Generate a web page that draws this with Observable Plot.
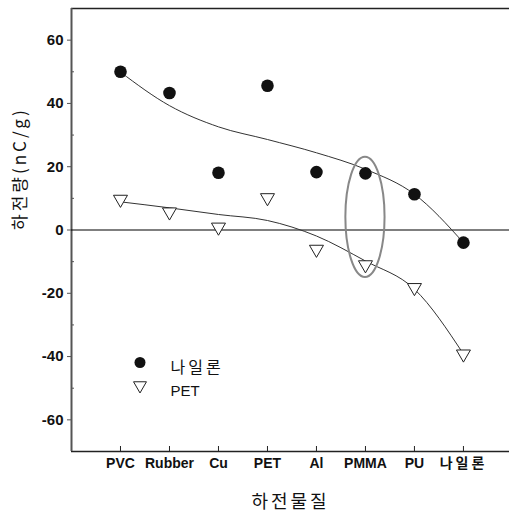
<!DOCTYPE html>
<html><head><meta charset="utf-8">
<script src="https://cdn.jsdelivr.net/npm/d3@7"></script>
<script src="https://cdn.jsdelivr.net/npm/@observablehq/plot@0.6"></script>
<style>
html,body{margin:0;padding:0;background:#fff;overflow:hidden;}
</style></head><body><div id="chart"></div>
<script>
// ---- data ----
const categories = ["PVC", "Rubber", "Cu", "PET", "Al", "PMMA", "PU", "나일론"];
const nylonValues = [50.0, 43.3, 18.1, 45.6, 18.3, 17.9, 11.3, -4.0];
const petValues = [9.7, 5.7, 0.9, 10.2, -6.1, -11.0, -18.2, -39.2];
// fitted trend curves at each category position
const nylonFitX = [1, 2, 3, 4, 5, 6, 7, 8];
const nylonFitY = [49.9, 39.3, 32.6, 28.6, 24.4, 19.2, 11.3, -4.0];
const petFitX = [1, 2, 3, 4, 5, 6, 7, 8];
const petFitY = [8.9, 7.0, 4.9, 3.0, -1.9, -9.8, -18.7, -39.2];
const seriesNames = ["나일론", "PET"];
const yMajorTicks = [-60, -40, -20, 0, 20, 40, 60];
const yMinorTicks = [-50, -30, -10, 10, 30, 50];
const xDomain = [0, 8.94];
const yDomain = [-70, 70];
const highlight = [{category: "PMMA", yCenter: 4, yHalfSpan: 19, xHalfSpan: 0.4}];
const xLabel = "하전물질";
const yLabel = "하전량(nC/g)";

// ---- tables built from the arrays ----
const categoryIndex = categories.map((c, i) => i + 1);
const nylonData = categories.map((c, i) => ({x: i + 1, y: nylonValues[i]}));
const petData = categories.map((c, i) => ({x: i + 1, y: petValues[i]}));
const nylonFit = nylonFitX.map((x, i) => ({x, y: nylonFitY[i]}));
const petFit = petFitX.map((x, i) => ({x, y: petFitY[i]}));

function ellipseMark(index, scales) {
  const h = highlight[0];
  const i = categories.indexOf(h.category) + 1;
  const cx = scales.x(i), cy = scales.y(h.yCenter);
  const rx = scales.x(i + h.xHalfSpan) - cx;
  const ry = scales.y(h.yCenter - h.yHalfSpan) - cy;
  const el = document.createElementNS("http://www.w3.org/2000/svg", "ellipse");
  el.setAttribute("cx", cx); el.setAttribute("cy", cy);
  el.setAttribute("rx", Math.abs(rx)); el.setAttribute("ry", Math.abs(ry));
  el.setAttribute("fill", "none"); el.setAttribute("stroke", "#888");
  el.setAttribute("stroke-width", 2);
  return el;
}

const chart = Plot.plot({
  width: 509,
  height: 523,
  marginLeft: 71,
  marginRight: 0,
  marginTop: 8,
  marginBottom: 72,
  style: {fontFamily: "'Liberation Sans', 'Noto Sans CJK KR', sans-serif", background: "#fff", color: "#111"},
  x: {type: "linear", domain: xDomain},
  y: {domain: yDomain},
  marks: [
    // frame lines
    Plot.ruleY([yDomain[1]], {stroke: "#222", strokeWidth: 1.5}),
    Plot.ruleY([yDomain[0]], {stroke: "#222", strokeWidth: 1.5}),
    Plot.ruleX([xDomain[0]], {stroke: "#555", strokeWidth: 2}),
    Plot.ruleY([0], {stroke: "#000", strokeWidth: 1.2}),
    // axes
    Plot.axisX(categoryIndex, {tickFormat: i => categories[i - 1], tickSize: 0, tickPadding: 7, fontSize: 14, fontWeight: "bold", label: null}),
    Plot.tickX(categoryIndex, {x: d => d, insetTop: 438, stroke: "#222"}),
    Plot.axisY(yMajorTicks, {tickFormat: d => String(d), tickSize: 4, tickPadding: 4, fontSize: 15, fontWeight: "bold", label: null, stroke: "#555"}),
    Plot.tickY(yMinorTicks, {y: d => d, insetRight: 435, stroke: "#555"}),
    // axis titles
    Plot.text([yLabel], {text: d => d, frameAnchor: "left", dx: -51, rotate: -90, fontSize: 17, fontFamily: "'Noto Sans CJK KR', sans-serif", fill: "#111"}),
    Plot.text([xLabel], {text: d => d, frameAnchor: "bottom", dy: 56, fontSize: 18, fontFamily: "'Noto Sans CJK KR', sans-serif", fill: "#111"}),
    // trend curves
    Plot.line(nylonFit, {x: "x", y: "y", curve: "monotone-x", stroke: "#333", strokeWidth: 1}),
    Plot.line(petFit, {x: "x", y: "y", curve: "monotone-x", stroke: "#333", strokeWidth: 1}),
    // highlight ellipse
    ellipseMark,
    // data points
    Plot.dot(nylonData, {x: "x", y: "y", r: 6.3, fill: "#111", stroke: "none"}),
    Plot.dot(petData, {x: "x", y: "y", symbol: "triangle", rotate: 180, r: 5.2, fill: "#fff", stroke: "#222", strokeWidth: 1}),
    // legend
    Plot.dot([seriesNames[0]], {frameAnchor: "top-left", dx: 68.5, dy: 354, r: 5.5, fill: "#111", stroke: "none"}),
    Plot.dot([seriesNames[1]], {frameAnchor: "top-left", dx: 68.5, dy: 377, symbol: "triangle", rotate: 180, r: 4.8, fill: "#fff", stroke: "#222", strokeWidth: 1}),
    Plot.text([seriesNames[0]], {text: d => d, frameAnchor: "top-left", dx: 99, dy: 353, textAnchor: "start", fontSize: 16, fontFamily: "'Noto Sans CJK KR', sans-serif", fill: "#111"}),
    Plot.text([seriesNames[1]], {text: d => d, frameAnchor: "top-left", dx: 99, dy: 377, textAnchor: "start", fontSize: 15, fill: "#111"})
  ]
});
document.getElementById("chart").appendChild(chart);
d3.select(chart).selectAll("text").each(function () {
  const t = this.textContent;
  if (t === yLabel) this.setAttribute("letter-spacing", "3");
  if (t === xLabel) this.setAttribute("letter-spacing", "3");
  if (t === seriesNames[0]) this.setAttribute("letter-spacing", "3");
});
</script>
</body></html>
